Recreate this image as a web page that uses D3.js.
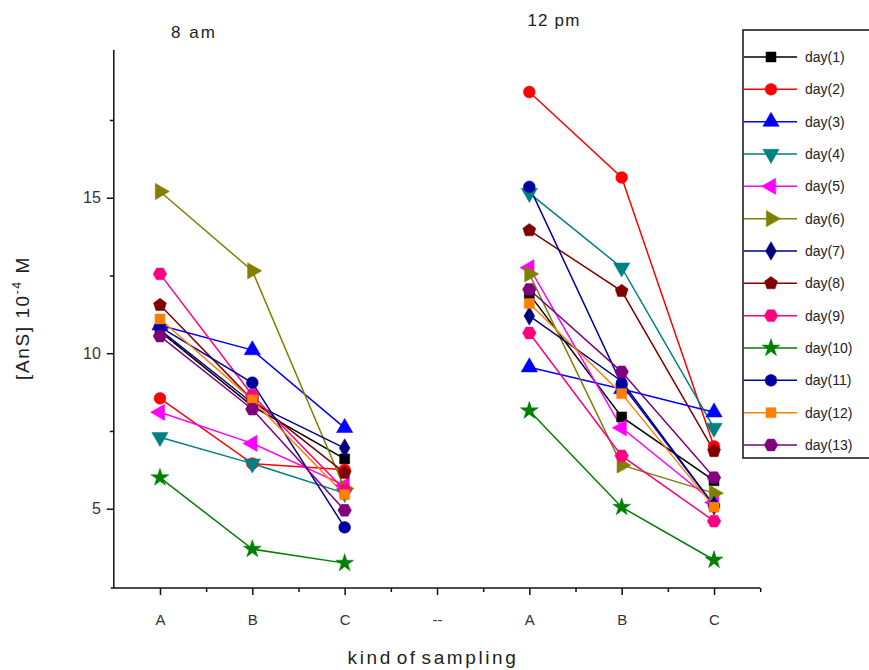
<!DOCTYPE html>
<html>
<head>
<meta charset="utf-8">
<script src="https://cdn.jsdelivr.net/npm/d3@7"></script>
<style>
  body { margin: 0; background: #fff; }
  svg { display: block; }
  text { font-family: "Liberation Sans", Arial, sans-serif; }
</style>
</head>
<body>
<div id="chart"></div>
<script>
// ---------- data ----------
const xTickLabels = ["A", "B", "C", "--", "A", "B", "C"];
const samplePositions = [1, 2, 3, 5, 6, 7]; // 8 am: A,B,C ; 12 pm: A,B,C
const groupTitles = ["8 am", "12 pm"];
const seriesNames = ["day(1)", "day(2)", "day(3)", "day(4)", "day(5)", "day(6)", "day(7)",
                     "day(8)", "day(9)", "day(10)", "day(11)", "day(12)", "day(13)"];
// values: [8am A, 8am B, 8am C, 12pm A, 12pm B, 12pm C]
const day1  = [10.7, 8.3, 6.6, 11.9, 7.95, 5.9];
const day2  = [8.55, 6.45, 6.25, 18.4, 15.65, 7.0];
const day3  = [10.9, 10.1, 7.6, 9.55, 8.85, 8.1];
const day4  = [7.3, 6.45, 5.5, 15.15, 12.75, 7.6];
const day5  = [8.1, 7.1, 5.75, 12.75, 7.6, 5.2];
const day6  = [15.2, 12.65, 5.65, 12.55, 6.4, 5.5];
const day7  = [10.75, 8.4, 6.95, 11.2, 9.1, 5.1];
const day8  = [11.55, 8.5, 6.15, 13.95, 12.0, 6.85];
const day9  = [12.55, 8.65, 5.6, 10.65, 6.7, 4.6];
const day10 = [6.0, 3.7, 3.25, 8.15, 5.05, 3.35];
const day11 = [10.85, 9.05, 4.4, 15.35, 9.0, 5.1];
const day12 = [11.1, 8.5, 5.45, 11.6, 8.7, 5.05];
const day13 = [10.55, 8.2, 4.95, 12.05, 9.4, 6.0];
const seriesValues = [day1, day2, day3, day4, day5, day6, day7, day8, day9, day10, day11, day12, day13];
const yTicks = [5, 10, 15];
const yMinorTicks = [7.5, 12.5, 17.5];

// ---------- styles ----------
const colors = ["#000000", "#ff0000", "#0000ff", "#008080", "#ff00ff", "#808000", "#000080",
                "#800000", "#ff0080", "#008000", "#0000a0", "#ff8000", "#800080"];
const shapes = ["square", "circle", "up", "down", "left", "right", "diamond",
                "pentagon", "hexagon", "star", "circle", "square", "hexagon"];

const W = 869, H = 670;
const svg = d3.select("#chart").append("svg").attr("width", W).attr("height", H);

const x = d3.scaleLinear().domain([0.5, 7.5]).range([113.8, 760.2]);
const y = d3.scaleLinear().domain([2.45, 19.75]).range([588, 50]);

function polygon(n, r, rot) {
  const pts = [];
  for (let i = 0; i < n; i++) {
    const a = rot + i * 2 * Math.PI / n;
    pts.push([r * Math.cos(a), r * Math.sin(a)]);
  }
  return "M" + pts.map(p => p[0].toFixed(2) + "," + p[1].toFixed(2)).join("L") + "Z";
}
function markerPath(shape) {
  switch (shape) {
    case "square": return d3.symbol(d3.symbolSquare, 100)();
    case "circle": return d3.symbol(d3.symbolCircle, 110)();
    case "up":
    case "down":
    case "left":
    case "right": return d3.symbol(d3.symbolTriangle, 115)();
    case "diamond": return d3.symbol(d3.symbolDiamond, 100)();
    case "pentagon": return polygon(5, 6.8, -Math.PI / 2);
    case "hexagon": return polygon(6, 6.8, 0);
    case "star": return d3.symbol(d3.symbolStar, 100)();
  }
}
function markerRotate(shape) {
  return { down: 180, left: -90, right: 90 }[shape] || 0;
}

// ---------- axes ----------
const axisG = svg.append("g");
// y axis
axisG.append("line").attr("x1", x(0.5)).attr("x2", x(0.5)).attr("y1", y.range()[1]).attr("y2", y.range()[0])
  .attr("stroke", "#111").attr("stroke-width", 1.5);
const yAxis = d3.axisLeft(y).tickValues(yTicks).tickSize(7).tickPadding(6);
const yg = axisG.append("g").attr("transform", `translate(${x(0.5)},0)`).call(yAxis);
yg.select(".domain").remove();
yg.selectAll(".tick line").attr("stroke", "#111").attr("stroke-width", 1.5);
yg.selectAll(".tick text").attr("font-size", 16).attr("fill", "#333")
  .attr("font-family", "Liberation Sans, Arial, sans-serif");
const ygm = axisG.append("g").attr("transform", `translate(${x(0.5)},0)`)
  .call(d3.axisLeft(y).tickValues(yMinorTicks).tickSize(4).tickFormat(""));
ygm.select(".domain").remove();
ygm.selectAll(".tick line").attr("stroke", "#111").attr("stroke-width", 1.5);

// x axis
axisG.append("line").attr("x1", x(0.5) - 3).attr("x2", x(7.5)).attr("y1", y.range()[0]).attr("y2", y.range()[0])
  .attr("stroke", "#111").attr("stroke-width", 1.5);
const xAxis = d3.axisBottom(x).tickValues([1, 2, 3, 4, 5, 6, 7]).tickSize(7).tickPadding(19)
  .tickFormat((d, i) => xTickLabels[i]);
const xg = axisG.append("g").attr("transform", `translate(0,${y.range()[0]})`).call(xAxis);
xg.select(".domain").remove();
xg.selectAll(".tick line").attr("stroke", "#111").attr("stroke-width", 1.5);
xg.selectAll(".tick text").attr("font-size", 15).attr("fill", "#333")
  .attr("font-family", "Liberation Sans, Arial, sans-serif");
const xgm = axisG.append("g").attr("transform", `translate(0,${y.range()[0]})`)
  .call(d3.axisBottom(x).tickValues([1.5, 2.5, 3.5, 4.5, 5.5, 6.5, 7.5]).tickSize(4).tickFormat(""));
xgm.select(".domain").remove();
xgm.selectAll(".tick line").attr("stroke", "#111").attr("stroke-width", 1.5);

// axis titles
svg.append("text").attr("x", 433).attr("y", 664).attr("text-anchor", "middle")
  .attr("font-size", 19).attr("fill", "#222").attr("letter-spacing", "2.6").attr("word-spacing", "-4")
  .text("kind of sampling");
const yl = svg.append("text").attr("transform", "translate(29,318) rotate(-90)")
  .attr("text-anchor", "middle").attr("font-size", 19).attr("fill", "#222").attr("letter-spacing", "1.6");
yl.append("tspan").text("[AnS] 10");
yl.append("tspan").attr("dy", -8).attr("font-size", 12).text("-4");
yl.append("tspan").attr("dy", 8).text(" M");

// group titles
svg.append("text").attr("x", 194).attr("y", 38).attr("text-anchor", "middle")
  .attr("font-size", 17).attr("fill", "#222").attr("letter-spacing", "2").text(groupTitles[0]);
svg.append("text").attr("x", 554).attr("y", 26).attr("text-anchor", "middle")
  .attr("font-size", 17).attr("fill", "#222").attr("letter-spacing", "1.2").text(groupTitles[1]);

// ---------- series ----------
const line = d3.line().x(d => x(d[0])).y(d => y(d[1]));
const plot = svg.append("g");
seriesValues.forEach((vals, si) => {
  const pts = vals.map((v, i) => [samplePositions[i], v]);
  const groups = [pts.slice(0, 3), pts.slice(3, 6)];
  groups.forEach(g => {
    plot.append("path").attr("d", line(g)).attr("fill", "none")
      .attr("stroke", colors[si]).attr("stroke-width", 1.5);
  });
});
seriesValues.forEach((vals, si) => {
  const pts = vals.map((v, i) => [samplePositions[i], v]);
  plot.selectAll(null).data(pts).enter().append("path")
    .attr("d", markerPath(shapes[si]))
    .attr("transform", d => `translate(${x(d[0])},${y(d[1])}) rotate(${markerRotate(shapes[si])})`)
    .attr("fill", colors[si]).attr("stroke", colors[si]).attr("stroke-width", 0.5);
});

// ---------- legend ----------
const lg = svg.append("g");
lg.append("rect").attr("x", 743).attr("y", 30).attr("width", 140).attr("height", 428)
  .attr("fill", "#fff").attr("stroke", "#111").attr("stroke-width", 1.5);
const legendY = d3.scalePoint().domain(seriesNames).range([57, 445]);
seriesNames.forEach((name, si) => {
  const yy = legendY(name);
  lg.append("line").attr("x1", 744).attr("x2", 797).attr("y1", yy).attr("y2", yy)
    .attr("stroke", colors[si]).attr("stroke-width", 1.5);
  lg.append("path").attr("d", markerPath(shapes[si]))
    .attr("transform", `translate(771,${yy}) rotate(${markerRotate(shapes[si])})`)
    .attr("fill", colors[si]).attr("stroke", colors[si]).attr("stroke-width", 0.5);
  lg.append("text").attr("x", 805).attr("y", yy + 5).attr("font-size", 14).attr("fill", "#222")
    .text(name);
});
</script>
</body>
</html>
